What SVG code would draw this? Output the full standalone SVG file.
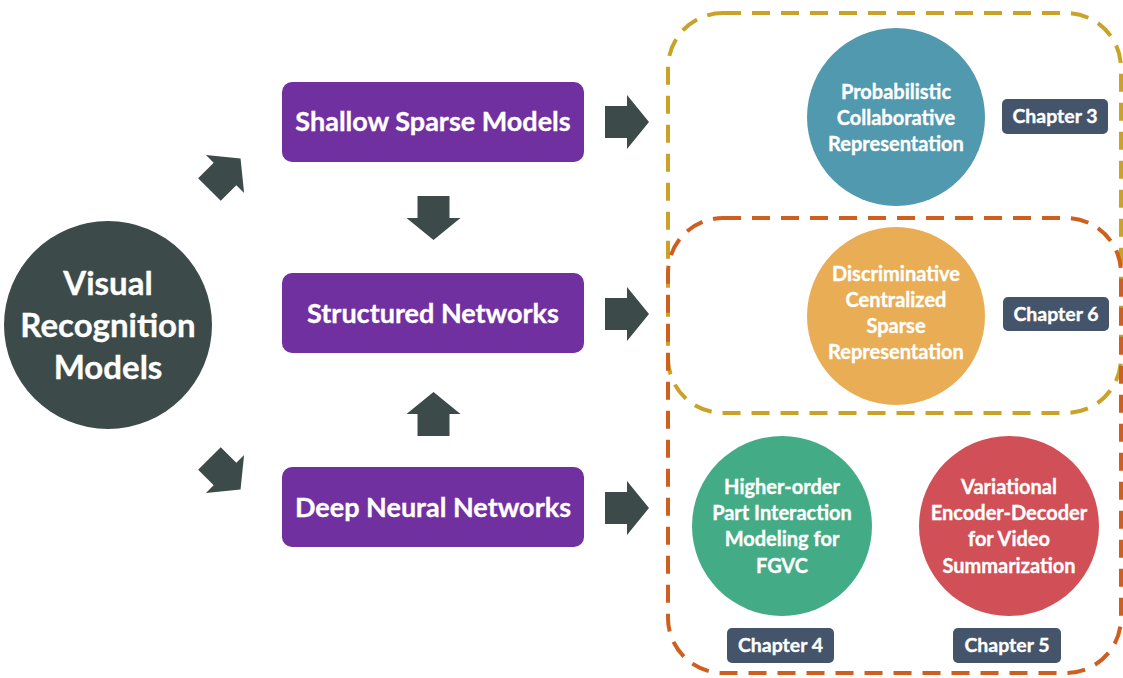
<svg xmlns="http://www.w3.org/2000/svg" width="1123" height="678" viewBox="0 0 1123 678">
  <style>
    text { font-family: Lato, "Open Sans", "Liberation Sans", sans-serif; font-weight: bold; fill: #ffffff; stroke: #ffffff; stroke-width: 0.35; text-anchor: middle; }
    .root { font-size: 33px; }
    .model { font-size: 27px; }
    .topic { font-size: 20px; }
    .chap { font-size: 19.5px; }
    .box { fill: #7030A0; }
    .tag { fill: #44546A; }
    .arrow { fill: #3C4B49; }
    .group { fill: none; stroke-width: 4; stroke-dasharray: 18 11; }
  </style>
  <defs>
    <!-- block arrow pointing right, origin at the base of the head -->
    <path id="blk" d="M-22,-16 H0 V-27 L22,0 L0,27 V16 H-22 Z"/>
  </defs>
  <rect width="1123" height="678" fill="#ffffff"/>

  <!-- dashed chapter groupings -->
  <g id="groups">
    <rect class="group" x="668" y="13" width="453" height="400" rx="55" stroke="#C9A227"/>
    <rect class="group" x="668" y="218" width="453" height="455" rx="55" stroke="#CF5F1F"/>
  </g>

  <!-- connectors -->
  <g id="connectors" class="arrow">
    <use href="#blk" transform="translate(225,174) rotate(-45)"/>
    <use href="#blk" transform="translate(225,474) rotate(45)"/>
    <use href="#blk" transform="translate(433.5,218) rotate(90)"/>
    <use href="#blk" transform="translate(433.5,414) rotate(-90)"/>
    <use href="#blk" transform="translate(627,122)"/>
    <use href="#blk" transform="translate(627,314)"/>
    <use href="#blk" transform="translate(627,508)"/>
  </g>

  <g id="visual-recognition">
    <circle cx="108" cy="325" r="104" fill="#3C4B49"/>
    <text class="root" x="108" y="295">Visual</text>
    <text class="root" x="108" y="337">Recognition</text>
    <text class="root" x="108" y="379">Models</text>
  </g>

  <g id="shallow-sparse">
    <rect class="box" x="282" y="82" width="302" height="80" rx="10"/>
    <text class="model" x="433" y="131">Shallow Sparse Models</text>
  </g>
  <g id="structured">
    <rect class="box" x="282" y="273" width="302" height="80" rx="10"/>
    <text class="model" x="433" y="323">Structured Networks</text>
  </g>
  <g id="deep-neural">
    <rect class="box" x="282" y="467" width="302" height="80" rx="10"/>
    <text class="model" x="433" y="517">Deep Neural Networks</text>
  </g>

  <g id="probabilistic">
    <circle cx="896" cy="117" r="89" fill="#5199AE"/>
    <text class="topic" x="896" y="99">Probabilistic</text>
    <text class="topic" x="896" y="125">Collaborative</text>
    <text class="topic" x="896" y="151">Representation</text>
  </g>
  <g id="chapter-3">
    <rect class="tag" x="1002" y="99" width="106" height="35" rx="5"/>
    <text class="chap" x="1055" y="123">Chapter 3</text>
  </g>

  <g id="discriminative">
    <circle cx="896" cy="316" r="89" fill="#E8AD55"/>
    <text class="topic" x="896" y="281">Discriminative</text>
    <text class="topic" x="896" y="307">Centralized</text>
    <text class="topic" x="896" y="333">Sparse</text>
    <text class="topic" x="896" y="359">Representation</text>
  </g>
  <g id="chapter-6">
    <rect class="tag" x="1003" y="297" width="106" height="34" rx="5"/>
    <text class="chap" x="1056" y="321">Chapter 6</text>
  </g>

  <g id="higher-order">
    <circle cx="782" cy="526" r="90" fill="#43AC86"/>
    <text class="topic" x="782" y="494">Higher-order</text>
    <text class="topic" x="782" y="520">Part Interaction</text>
    <text class="topic" x="782" y="546">Modeling for</text>
    <text class="topic" x="782" y="573">FGVC</text>
  </g>
  <g id="chapter-4">
    <rect class="tag" x="727" y="628" width="107" height="35" rx="5"/>
    <text class="chap" x="780.5" y="652">Chapter 4</text>
  </g>

  <g id="variational">
    <circle cx="1009" cy="526" r="90" fill="#D14F56"/>
    <text class="topic" x="1009" y="494">Variational</text>
    <text class="topic" x="1009" y="520">Encoder-Decoder</text>
    <text class="topic" x="1009" y="546">for Video</text>
    <text class="topic" x="1009" y="573">Summarization</text>
  </g>
  <g id="chapter-5">
    <rect class="tag" x="953" y="628" width="108" height="35" rx="5"/>
    <text class="chap" x="1007" y="652">Chapter 5</text>
  </g>
</svg>
